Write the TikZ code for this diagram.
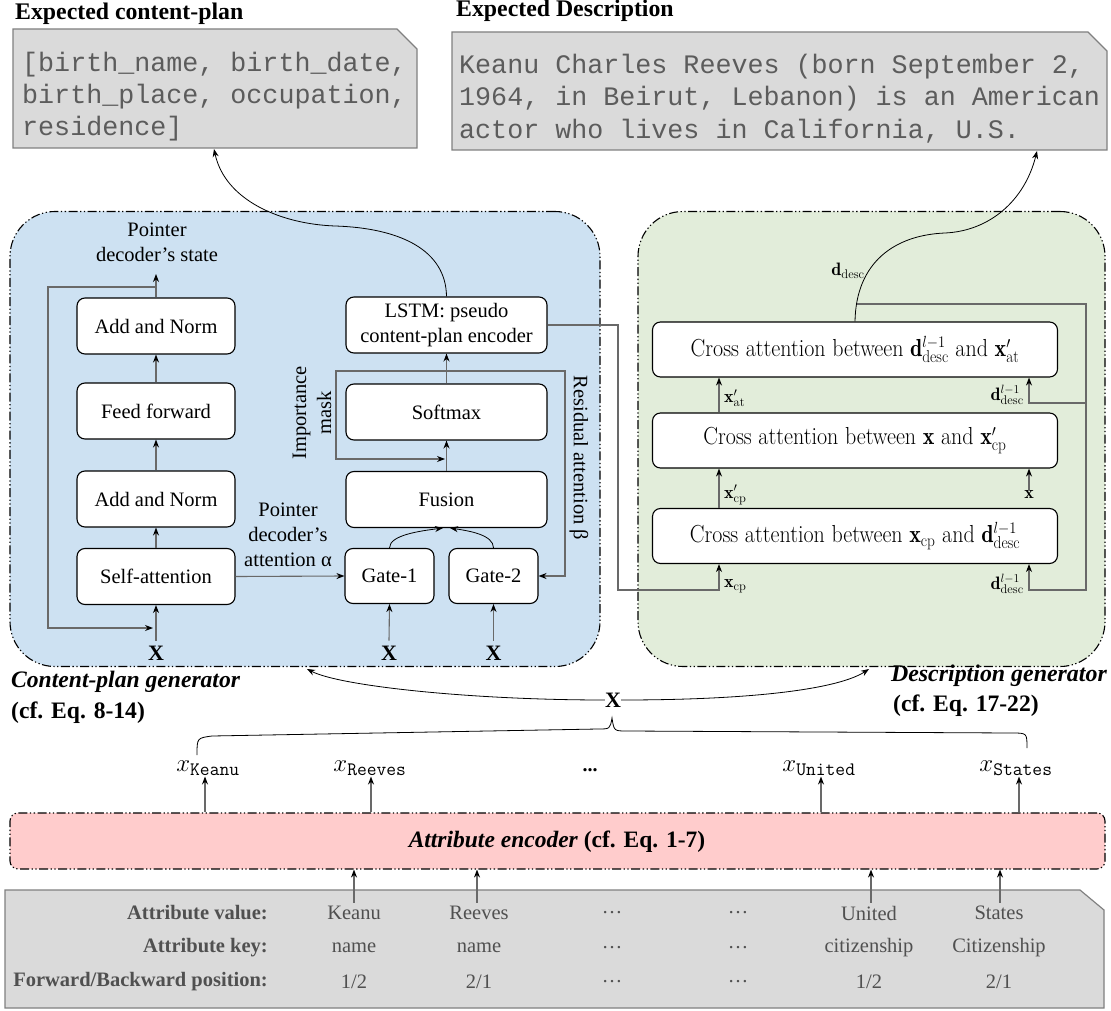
\documentclass[tikz,border=0pt]{standalone}
\usepackage{fontspec}
\newfontfamily\tms{Liberation Serif}
\newfontfamily\mono{Liberation Mono}
\usetikzlibrary{arrows.meta}
\definecolor{bluefill}{RGB}{205,225,242}
\definecolor{greenfill}{RGB}{226,237,218}
\definecolor{pinkfill}{RGB}{255,204,204}
\definecolor{grayfill}{RGB}{218,218,218}
\definecolor{boxline}{RGB}{128,128,128}
\definecolor{conn}{RGB}{105,105,105}
\definecolor{txtgray}{RGB}{80,80,80}
\definecolor{monogray}{RGB}{92,92,92}
\newcommand{\fsz}[2]{\fontsize{#1}{#2}\selectfont}
\newcommand{\tallt}[1]{\scalebox{1}[1.12]{#1}}
\begin{document}
\begin{tikzpicture}[x=1pt,y=-1pt,
  blk/.style={draw, line width=1.1pt, rounded corners=8pt, fill=white, align=center, inner sep=0pt, font=\tms\fsz{20.5}{24.5}},
  cabox/.style={draw, line width=1.1pt, rounded corners=8pt, fill=white, inner sep=0pt, minimum width=405pt, minimum height=55pt, font=\fsz{22}{26}},
  panel/.style={draw, line width=1.1pt, dash pattern=on 9pt off 2.5pt on 1.3pt off 2.5pt on 1.3pt off 2.5pt, inner sep=0pt},
  conn/.style={draw=conn, line width=1.1pt},
  tip/.style={-{Stealth[length=8pt,width=6pt,color=black]}},
  arr/.style={conn, tip},
  carr/.style={draw=black, line width=0.8pt, -{Stealth[length=8pt,width=6pt]}},
  lbl/.style={inner sep=0pt, font=\tms\fsz{20.5}{25}, align=center},
  mlbl/.style={inner sep=0pt, font=\fsz{18}{20}},
  xlbl/.style={inner sep=0pt, font=\tms\bfseries\fsz{22}{24}},
  mono/.style={inner sep=0pt, anchor=base west, text=monogray, font=\mono\fsz{26.7}{32}},
  ttl/.style={inner sep=0pt, anchor=base west, font=\tms\bfseries\fsz{23.8}{26}},
  tab/.style={inner sep=0pt, text=txtgray, font=\tms\fsz{20.5}{24}},
  tabh/.style={inner sep=0pt, anchor=east, text=txtgray, font=\tms\bfseries\fsz{20.5}{24}},
  xv/.style={inner sep=1pt, font=\fsz{24}{26}},
]
\useasboundingbox (0,0) rectangle (1111,1011);

% ---------- top boxes ----------
\node[ttl] (t1) at (15,20) {Expected content-plan};
\node[ttl] (t2) at (456,17) {Expected Description};
\draw[fill=grayfill, draw=boxline, line width=1.2pt] (13,29) -- (397,29) -- (417,49) -- (417,148) -- (13,148) -- cycle;
\draw[fill=grayfill, draw=boxline, line width=1.2pt] (452,32) -- (1088,32) -- (1107,51) -- (1107,150) -- (452,150) -- cycle;
\node[mono] (cp1) at (22,72) {[birth\_name, birth\_date,};
\node[mono] (cp2) at (22,104) {birth\_place, occupation,};
\node[mono] (cp3) at (22,136) {residence]};
\node[mono] (d1) at (459,74) {Keanu Charles Reeves (born September 2,};
\node[mono] (d2) at (459,106) {1964, in Beirut, Lebanon) is an American};
\node[mono] (d3) at (459,139) {actor who lives in California, U.S.};
\coordinate (cpin) at (214,149);
\coordinate (descin) at (1037,151);

% ---------- panels ----------
\node[panel, fill=bluefill, rounded corners=45pt, minimum width=590pt, minimum height=455pt] (cpg) at (305,439) {};
\node[panel, fill=greenfill, rounded corners=45pt, minimum width=467pt, minimum height=455pt] (dg) at (871.5,439) {};

% ---------- content-plan generator ----------
\node[blk, minimum width=158pt, minimum height=56pt] (an2) at (156,326) {Add and Norm};
\node[blk, minimum width=158pt, minimum height=56pt] (ff) at (156,411) {Feed forward};
\node[blk, minimum width=158pt, minimum height=56pt] (an1) at (156,499) {Add and Norm};
\node[blk, minimum width=158pt, minimum height=56pt] (sa) at (156,576.5) {Self-attention};
\node[lbl] (pds) at (157,242) {Pointer\\decoder’s state};
\coordinate (pdsin) at (156,274);
\coordinate (lp) at (156,287);
\node[xlbl] (x1) at (156,653) {X};
\node[xlbl] (x2) at (389,653) {X};
\node[xlbl] (x3) at (493.5,653) {X};

\node[blk, minimum width=201pt, minimum height=56pt] (lstm) at (446.5,325) {LSTM: pseudo\\content-plan encoder};
\node[blk, minimum width=201pt, minimum height=56pt] (sm) at (446.5,412) {Softmax};
\node[blk, minimum width=201pt, minimum height=56pt] (fu) at (446.5,499.5) {Fusion};
\node[blk, minimum width=89pt, minimum height=55pt] (g1) at (389.5,576) {Gate-1};
\node[blk, minimum width=89pt, minimum height=55pt] (g2) at (493.5,576) {Gate-2};
\node[lbl] (pda) at (288,535) {Pointer\\decoder’s\\attention α};
\node[lbl, rotate=90] (impl) at (312,413) {Importance\\mask};
\node[lbl, rotate=-90] (resl) at (579,458) {Residual attention β};
\coordinate (imp) at (445,459);

\draw[arr] (sa.north) -- (an1.south);
\draw[arr] (an1.north) -- (ff.south);
\draw[arr] (ff.north) -- (an2.south);
\draw[arr] (an2.north) -- (pdsin);
\draw[arr] (lp) -- (48,287) -- (48,628) -- (153,628);
\draw[arr] (x1.north) ++(0,-5) -- (sa.south);
\draw[arr] (x2.north) ++(0,-5) -- (g1.south);
\draw[arr] (x3.north) ++(0,-5) -- (g2.south);
\draw[arr] (sa.east) -- (g1.west);
\draw[carr] (g1.north) .. controls (389.5,535) and (420,531) .. (443,528);
\draw[carr] (g2.north) .. controls (493.5,535) and (470,531) .. (450,528);
\draw[arr] (fu.north) -- (sm.south);
\draw[arr] (sm.north) -- (lstm.south);
\draw[conn, {Stealth[length=8pt,width=6pt,color=black]}-{Stealth[length=8pt,width=6pt,color=black]}] (imp) -- (336,459) -- (336,371) -- (565,371) -- (565,576) -- (g2.east);
\draw[carr] (lstm.north) .. controls (446,250) and (400,228) .. (335,226) .. controls (280,224) and (225,200) .. (cpin);

% ---------- description generator ----------
\node[cabox] (ca1) at (855,349.5) {\tallt{Cross attention between $\mathbf{d}^{l-1}_{\mathrm{desc}}$ and $\mathbf{x}'_{\mathrm{at}}$}};
\node[cabox] (ca2) at (855,440.5) {\tallt{Cross attention between $\mathbf{x}$ and $\mathbf{x}'_{\mathrm{cp}}$}};
\node[cabox] (ca3) at (855,536) {\tallt{Cross attention between $\mathbf{x}_{\mathrm{cp}}$ and $\mathbf{d}^{l-1}_{\mathrm{desc}}$}};
\coordinate (cL) at (719,0);
\coordinate (cR) at (1029,0);
\node[mlbl, anchor=west] (lat) at (724,398) {$\mathbf{x}'_{\mathrm{at}}$};
\node[mlbl, anchor=west] (lcp2) at (724,495) {$\mathbf{x}'_{\mathrm{cp}}$};
\node[mlbl, anchor=west] (lcp) at (724,586) {$\mathbf{x}_{\mathrm{cp}}$};
\node[mlbl, anchor=east] (ld1) at (1024,395) {$\mathbf{d}^{l-1}_{\mathrm{desc}}$};
\node[mlbl, anchor=east] (ld3) at (1024,584) {$\mathbf{d}^{l-1}_{\mathrm{desc}}$};
\node[mlbl] (lx) at (1029,495) {$\mathbf{x}$};
\node[mlbl] (ldd) at (848,271) {$\mathbf{d}_{\mathrm{desc}}$};

\draw[arr] (lstm.east) -- (618,325) -- (618,590) -- (719,590) -- (ca3.south -| cL);
\draw[arr] (ca3.north -| cL) -- (ca2.south -| cL);
\draw[arr] (ca2.north -| cL) -- (ca1.south -| cL);
\draw[arr] (lx.north) -- (ca2.south -| cR);
\coordinate (dtop) at (856,304);
\draw[arr] (dtop) -- (1086,304) -- (1086,590) -- (1029,590) -- (ca3.south -| cR);
\draw[arr] (1086,403) -- (1029,403) -- (ca1.south -| cR);
\draw[carr] (ca1.north) .. controls (856,262) and (895,235) .. (945,233) .. controls (990,231) and (1025,200) .. (descin);

% ---------- labels under panels ----------
\node[inner sep=0pt, anchor=base west, font=\tms\bfseries\itshape\fsz{23.6}{26}] (cpgl) at (11,687) {Content-plan generator};
\node[inner sep=0pt, anchor=base west, font=\tms\bfseries\fsz{23.6}{26}] (cpgl2) at (11,718) {(cf. Eq. 8-14)};
\node[inner sep=0pt, anchor=base east, font=\tms\bfseries\itshape\fsz{23.9}{26}] (dgl) at (1107,681) {Description generator};
\node[inner sep=0pt, anchor=base west, font=\tms\bfseries\fsz{23.6}{26}] (dgl2) at (893,711) {(cf. Eq. 17-22)};
\node[xlbl] (xc) at (613,700) {X};
\draw[carr] (xc.west) .. controls (470,700) and (340,686) .. (307,669);
\draw[carr] (xc.east) .. controls (760,700) and (840,688) .. (869,669);
\draw[line width=0.8pt] (197,755) .. controls (197,738) .. (212,736) -- (598,729) .. controls (610,729) .. (612,718) .. controls (614,731) .. (627,731) -- (1012,733) .. controls (1027,733) .. (1027,748);

% ---------- x tokens ----------
\node[xv] (xk) at (208,768) {$x_{\mbox{\ttfamily\fsz{19}{19}Keanu}}$};
\node[xv] (xr) at (370,768) {$x_{\mbox{\ttfamily\fsz{19}{19}Reeves}}$};
\node[inner sep=0pt, font=\tms\bfseries\fsz{20}{24}] (xd) at (590,770) {...};
\node[xv] (xu) at (819,768) {$x_{\mbox{\ttfamily\fsz{19}{19}United}}$};
\node[xv] (xs) at (1016,768) {$x_{\mbox{\ttfamily\fsz{19}{19}States}}$};

% ---------- attribute encoder ----------
\node[panel, fill=pinkfill, rounded corners=8pt, minimum width=1095pt, minimum height=56pt] (enc) at (557.5,841) {};
\node[inner sep=0pt, font=\tms\bfseries\fsz{23.5}{26}] (enct) at (557,842) {\textit{Attribute encoder} (cf. Eq. 1-7)};
\coordinate (a1) at (205,0);
\coordinate (a2) at (371,0);
\coordinate (a3) at (821,0);
\coordinate (a4) at (1019,0);
\draw[arr] (enc.north -| a1) -- (a1 |- xk.south);
\draw[arr] (enc.north -| a2) -- (a2 |- xr.south);
\draw[arr] (enc.north -| a3) -- (a3 |- xu.south);
\draw[arr] (enc.north -| a4) -- (a4 |- xs.south);

% ---------- table ----------
\draw[fill=grayfill, draw=boxline, line width=1.2pt] (5,890) -- (1080,890) -- (1104,910) -- (1104,1008) -- (5,1008) -- cycle;
\node[tabh] (h1) at (268,913) {Attribute value:};
\node[tabh] (h2) at (268,948) {Attribute key:};
\node[tabh] (h3) at (268,982) {Forward/Backward position:};
\node[tab] (v1) at (354,913) {Keanu};
\node[tab] (v2) at (479,913) {Reeves};
\node[tab] (v3) at (612,913) {…};
\node[tab] (v4) at (738,913) {…};
\node[tab] (v5) at (869,913) {United};
\node[tab] (v6) at (999,913) {States};
\node[tab] (k1) at (354,948) {name};
\node[tab] (k2) at (479,948) {name};
\node[tab] (k3) at (612,948) {…};
\node[tab] (k4) at (738,948) {…};
\node[tab] (k5) at (869,948) {citizenship};
\node[tab] (k6) at (999,948) {Citizenship};
\node[tab] (p1) at (354,982) {1/2};
\node[tab] (p2) at (479,982) {2/1};
\node[tab] (p3) at (612,982) {…};
\node[tab] (p4) at (738,982) {…};
\node[tab] (p5) at (869,982) {1/2};
\node[tab] (p6) at (999,982) {2/1};
\coordinate (b1) at (354,0);
\coordinate (b2) at (477,0);
\coordinate (b3) at (871,0);
\coordinate (b4) at (1000,0);
\draw[arr] (b1 |- v1.north) ++(0,-3) -- (enc.south -| b1);
\draw[arr] (b2 |- v2.north) ++(0,-3) -- (enc.south -| b2);
\draw[arr] (b3 |- v5.north) ++(0,-3) -- (enc.south -| b3);
\draw[arr] (b4 |- v6.north) ++(0,-3) -- (enc.south -| b4);
\end{tikzpicture}
\end{document}
